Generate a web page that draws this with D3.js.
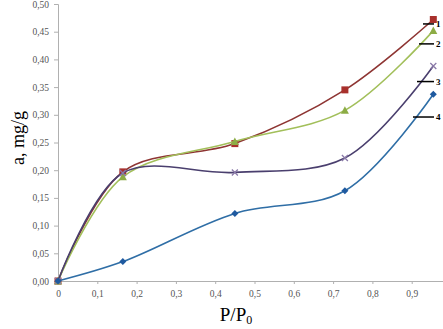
<!DOCTYPE html>
<html>
<head>
<meta charset="utf-8">
<script src="https://cdn.jsdelivr.net/npm/d3@7"></script>
<style>
body { margin: 0; background: #fff; }
.axis text { font-family: "Liberation Serif", serif; font-size: 9.5px; fill: #555; }
.axis path, .axis line { stroke: #b0b0b0; }
</style>
</head>
<body>
<div id="chart"></div>
<script>
var xs = [0, 0.165, 0.45, 0.73, 0.955];
var series1 = [0, 0.197, 0.248, 0.345, 0.472];
var series2 = [0, 0.188, 0.252, 0.308, 0.452];
var series3 = [0, 0.195, 0.196, 0.222, 0.388];
var series4 = [0, 0.035, 0.122, 0.163, 0.337];
var seriesNames = ["1", "2", "3", "4"];
var labelY = [0.464, 0.428, 0.36, 0.296];
var xTicks = [0, 0.1, 0.2, 0.3, 0.4, 0.5, 0.6, 0.7, 0.8, 0.9];
var yTicks = [0, 0.05, 0.1, 0.15, 0.2, 0.25, 0.3, 0.35, 0.4, 0.45, 0.5];

var w = 443, h = 329;

var xscale = d3.scaleLinear().domain([0, 1]).range([58, 451]);
var yscale = d3.scaleLinear().domain([0, 0.5]).range([281, 4]);

var fmt = function(d) { return d === 0 ? "0" : d3.format(".1f")(d).replace(".", ","); };
var yfmt = function(d) { return d3.format(".2f")(d).replace(".", ","); };

var svg = d3.select("#chart").append("svg")
    .attr("width", w)
    .attr("height", h);

svg.append("g")
    .attr("class", "axis")
    .attr("transform", "translate(0," + yscale(0) + ")")
    .call(d3.axisBottom(xscale).tickValues(xTicks).tickFormat(fmt).tickSizeOuter(0).tickSize(3).tickPadding(6));

svg.append("g")
    .attr("class", "axis")
    .attr("transform", "translate(" + xscale(0) + ",0)")
    .call(d3.axisLeft(yscale).tickValues(yTicks).tickFormat(yfmt).tickSizeOuter(0).tickSize(4).tickPadding(5));

var all = [
    {vals: series1, line: "#8e3533", fill: "#a8302c", shape: "square"},
    {vals: series2, line: "#a2bf5a", fill: "#8cac45", shape: "triangle"},
    {vals: series3, line: "#4a3f6e", fill: "#8a7aa8", shape: "cross"},
    {vals: series4, line: "#2f6ea6", fill: "#1f5aa0", shape: "diamond"}
];

var line = d3.line()
    .x(function(d) { return xscale(d[0]); })
    .y(function(d) { return yscale(d[1]); })
    .curve(d3.curveCatmullRom.alpha(0.5));

all.forEach(function(s) {
    var pts = xs.map(function(x, i) { return [x, s.vals[i]]; });
    svg.append("path")
        .datum(pts)
        .attr("d", line)
        .attr("fill", "none")
        .attr("stroke", s.line)
        .attr("stroke-width", 1.6);

    svg.selectAll(null)
        .data(pts)
        .enter()
        .append("path")
        .attr("transform", function(d) { return "translate(" + xscale(d[0]) + "," + yscale(d[1]) + ")"; })
        .attr("d", function() {
            if (s.shape === "square") return "M-3.5,-3.5h7v7h-7z";
            if (s.shape === "triangle") return "M0,-4L4,3.5L-4,3.5z";
            if (s.shape === "diamond") return "M0,-3.5L3.5,0L0,3.5L-3.5,0z";
            return "M-3,-3L3,3M-3,3L3,-3";
        })
        .attr("fill", s.shape === "cross" ? "none" : s.fill)
        .attr("stroke", s.shape === "cross" ? s.fill : "none")
        .attr("stroke-width", 1.3);
});

// leader lines with series numbers
var lx1 = [423, 419, 417, 413];
svg.selectAll(".lead")
    .data(seriesNames)
    .enter()
    .append("line")
    .attr("x1", function(d, i) { return lx1[i]; })
    .attr("x2", 434)
    .attr("y1", function(d, i) { return yscale(labelY[i]); })
    .attr("y2", function(d, i) { return yscale(labelY[i]); })
    .attr("stroke", "#000")
    .attr("stroke-width", 1.5);

svg.selectAll(".num")
    .data(seriesNames)
    .enter()
    .append("text")
    .attr("x", 436)
    .attr("y", function(d, i) { return yscale(labelY[i]) + 3; })
    .text(function(d) { return d; })
    .attr("font-family", "Liberation Serif, serif")
    .attr("font-weight", "bold")
    .attr("font-size", "9px");

svg.append("text")
    .attr("transform", "translate(24,138) rotate(-90)")
    .attr("text-anchor", "middle")
    .attr("font-family", "Liberation Serif, serif")
    .attr("font-size", "18px")
    .text("a, mg/g");

var xl = svg.append("text")
    .attr("x", 236)
    .attr("y", 321)
    .attr("text-anchor", "middle")
    .attr("font-family", "Liberation Serif, serif")
    .attr("font-size", "19px");
xl.append("tspan").text("P/P");
xl.append("tspan").attr("font-size", "12px").attr("dy", 3).text("0");
</script>
</body>
</html>
